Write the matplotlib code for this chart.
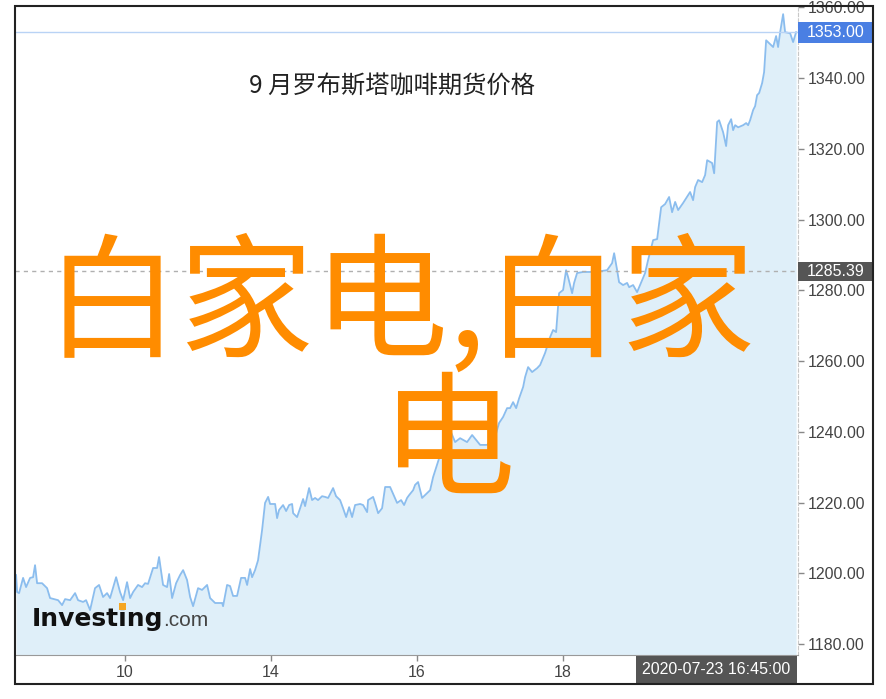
import matplotlib
matplotlib.use("Agg")
import matplotlib.pyplot as plt
from matplotlib.patches import Rectangle
from matplotlib.transforms import blended_transform_factory

plt.rcParams['font.family'] = ['Noto Sans CJK SC', 'DejaVu Sans']

# position in trading sessions (tick "10" = 0) and price
x_pos = [-1.495, -1.481, -1.454, -1.399, -1.358, -1.303, -1.262, -1.235, -1.207, -1.139,
         -1.070, -1.029, -0.919, -0.864, -0.823, -0.754, -0.686, -0.645, -0.576, -0.535,
         -0.480, -0.412, -0.357, -0.302, -0.247, -0.206, -0.123, -0.069, -0.027, 0.027,
         0.069, 0.110, 0.178, 0.233, 0.274, 0.315, 0.384, 0.439, 0.466, 0.521,
         0.576, 0.604, 0.645, 0.700, 0.754, 0.796, 0.850, 0.892, 0.933, 1.001,
         1.056, 1.125, 1.166, 1.235, 1.331, 1.344, 1.399, 1.440, 1.481, 1.536,
         1.591, 1.646, 1.674, 1.715, 1.742, 1.783, 1.824, 1.879, 1.920, 1.962,
         1.989, 2.058, 2.085, 2.112, 2.167, 2.209, 2.250, 2.291, 2.305, 2.359,
         2.401, 2.442, 2.469, 2.524, 2.565, 2.606, 2.647, 2.702, 2.743, 2.785,
         2.853, 2.894, 2.949, 2.990, 3.032, 3.073, 3.114, 3.155, 3.224, 3.265,
         3.320, 3.333, 3.402, 3.429, 3.471, 3.525, 3.567, 3.635, 3.731, 3.786,
         3.827, 3.868, 3.896, 3.951, 3.978, 4.019, 4.074, 4.143, 4.184, 4.225,
         4.321, 4.458, 4.527, 4.595, 4.691, 4.760, 4.870, 4.966, 5.034, 5.089,
         5.130, 5.185, 5.240, 5.281, 5.322, 5.364, 5.405, 5.460, 5.487, 5.528,
         5.583, 5.652, 5.693, 5.761, 5.830, 5.871, 5.912, 5.953, 6.008, 6.049,
         6.077, 6.132, 6.159, 6.200, 6.283, 6.447, 6.612, 6.680, 6.708, 6.749,
         6.776, 6.831, 6.886, 6.914, 6.968, 7.023, 7.064, 7.133, 7.174, 7.243,
         7.298, 7.353, 7.407, 7.462, 7.503, 7.545, 7.586, 7.654, 7.750, 7.791,
         7.819, 7.860, 7.915, 7.956, 7.984, 8.052, 8.080, 8.121, 8.148, 8.203,
         8.244, 8.272, 8.313, 8.340, 8.368, 8.409, 8.477, 8.519, 8.546, 8.573,
         8.615, 8.642, 8.669, 8.697, 8.738, 8.765, 8.793, 8.834, 8.889, 8.930,
         8.957, 8.985, 9.026, 9.053, 9.122, 9.163, 9.204]
price = [1199.5, 1194.7, 1194.4, 1198.7, 1196.1, 1198.7, 1198.9, 1202.3, 1197.2, 1197.2,
         1195.8, 1193.0, 1192.4, 1191.0, 1192.7, 1192.4, 1194.4, 1192.4, 1191.9, 1192.4,
         1189.6, 1195.8, 1196.7, 1193.3, 1194.4, 1193.0, 1198.9, 1194.7, 1192.4, 1197.5,
         1193.0, 1194.7, 1196.7, 1196.1, 1197.2, 1197.0, 1201.5, 1201.5, 1204.6, 1196.7,
         1196.1, 1199.8, 1193.0, 1197.2, 1199.5, 1200.9, 1198.1, 1193.3, 1190.7, 1195.8,
         1195.3, 1196.7, 1193.0, 1191.6, 1191.6, 1190.7, 1196.7, 1196.4, 1193.6, 1193.6,
         1198.7, 1198.7, 1196.7, 1201.2, 1198.9, 1200.9, 1203.7, 1212.2, 1219.9, 1221.6,
         1219.6, 1219.6, 1215.6, 1217.9, 1219.3, 1217.6, 1219.3, 1219.6, 1217.0, 1215.9,
         1218.4, 1221.0, 1219.0, 1224.1, 1220.7, 1221.3, 1220.7, 1221.8, 1221.6, 1221.3,
         1224.1, 1221.8, 1220.7, 1218.4, 1215.9, 1218.7, 1215.9, 1219.3, 1219.6, 1219.3,
         1217.3, 1220.7, 1221.6, 1219.9, 1217.0, 1218.4, 1224.4, 1224.4, 1219.9, 1220.7,
         1219.3, 1221.3, 1222.1, 1223.5, 1225.0, 1225.8, 1221.3, 1222.7, 1223.5, 1227.2,
         1233.4, 1240.5, 1237.1, 1238.2, 1237.1, 1239.1, 1236.3, 1236.3, 1237.7, 1239.6,
         1242.5, 1244.2, 1246.7, 1246.7, 1248.4, 1246.7, 1249.5, 1252.7, 1255.5, 1258.3,
         1256.9, 1258.0, 1258.9, 1262.3, 1266.8, 1268.8, 1268.2, 1279.2, 1280.1, 1285.7,
         1283.7, 1279.2, 1282.1, 1284.9, 1285.2, 1285.2, 1285.7, 1287.7, 1290.5, 1285.7,
         1282.3, 1281.5, 1282.1, 1280.9, 1281.5, 1279.5, 1281.5, 1284.9, 1288.6, 1294.2,
         1294.5, 1303.5, 1304.4, 1306.4, 1302.1, 1305.0, 1302.7, 1304.7, 1307.8, 1305.5,
         1309.2, 1311.2, 1310.6, 1312.6, 1316.8, 1316.0, 1313.1, 1327.6, 1328.1, 1324.7,
         1320.8, 1326.7, 1328.4, 1325.3, 1326.7, 1326.1, 1326.7, 1327.3, 1326.7, 1328.1,
         1331.0, 1332.1, 1335.2, 1335.8, 1338.6, 1341.7, 1350.7, 1349.9, 1348.8, 1351.9,
         1348.8, 1353.0, 1358.1, 1353.0, 1352.7, 1350.2, 1353.0]

x_ticks = [0, 2, 4, 6]
x_tick_labels = ['10', '14', '16', '18']
y_ticks = [1180, 1200, 1220, 1240, 1260, 1280, 1300, 1320, 1340, 1360]
last_price = 1353.00
marker_price = 1285.39
last_time = '2020-07-23 16:45:00'
title = '9 月罗布斯塔咖啡期货价格'
overlay_1 = '白家电,白家'
overlay_2 = '电'

num_font = 'Liberation Sans'
y_min, y_max = 1176.9, 1360.4
px_per_unit = 649 / (y_max - y_min)   # pixels per price unit

fig = plt.figure(figsize=(8.86, 6.99), dpi=100)
ax = fig.add_axes([15 / 886, 1 - 655 / 699, 783 / 886, 649 / 699])

# serie
ax.fill_between(x_pos, price, y_min, color='#dfeff9', lw=0)
ax.plot(x_pos, price, color='#8bbdee', lw=1.3)

# lignes de prix
ax.axhline(last_price, color='#b9d3f5', lw=1)
ax.axhline(marker_price, color='#b0b0b0', lw=1, dashes=(3, 3))

ax.set_xlim(-1.51, 9.23)
ax.set_ylim(y_min, y_max)

ax.yaxis.tick_right()
ax.set_yticks(y_ticks)
ax.set_yticklabels(['%.2f' % v for v in y_ticks])
ax.set_xticks(x_ticks)
ax.set_xticklabels(x_tick_labels)
ax.tick_params(axis='both', colors='#888888', labelcolor='#444444',
               length=4, width=1, labelsize=11.5)
ax.tick_params(axis='y', pad=3)
for lab in ax.get_xticklabels() + ax.get_yticklabels():
    lab.set_fontfamily(num_font)

for s in ['left', 'top']:
    ax.spines[s].set_visible(False)
ax.spines['bottom'].set_color('#999999')
ax.spines['right'].set_color('#c8c8c8')
ax.spines['right'].set_linestyle((0, (3, 2)))

# étiquettes de prix à droite
tr = blended_transform_factory(ax.transAxes, ax.transData)
box_w = 75 / 783
for val, col, h in [(last_price, '#4a7fe3', 21), (marker_price, '#555555', 19)]:
    half = h / 2 / px_per_unit
    ax.add_patch(Rectangle((1.0, val - half), box_w, 2 * half, transform=tr,
                           fc=col, ec='none', clip_on=False, zorder=5))
    ax.text(1.0 + box_w / 2, val, '%.2f' % val, transform=tr, color='white',
            fontsize=11.5, family=num_font, va='center', ha='center', zorder=6)

# date en bas
fig.patches.append(Rectangle((636 / 886, 1 - 684 / 699), 161 / 886, 28 / 699,
                             transform=fig.transFigure, fc='#555555', ec='none'))
fig.text(716 / 886, 1 - 670 / 699, last_time, color='white', fontsize=11.5,
         family=num_font, ha='center', va='center')

# titre
ax.text(0.482, 0.876, title, transform=ax.transAxes, ha='center', va='center',
        fontsize=17.5, color='#222222')

# logo
ax.text(0.022, 0.0447, 'Investing', transform=ax.transAxes, fontsize=18,
        fontweight='bold', family='DejaVu Sans', color='#111111', va='baseline')
ax.text(0.189, 0.0447, '.com', transform=ax.transAxes, fontsize=15,
        family='Liberation Sans', color='#444444', va='baseline')
# point orange du "i"
fig.patches.append(Rectangle((119.5 / 886, 1 - 610 / 699), 7 / 886, 7 / 699,
                             transform=fig.transFigure, fc='#f5a623', ec='none'))

# texte orange
fig.text(400 / 886, 1 - 308 / 699, overlay_1, fontsize=97, color='#ff8c00',
         ha='center', va='center', fontweight='medium')
fig.text(447 / 886, 1 - 447 / 699, overlay_2, fontsize=97, color='#ff8c00',
         ha='center', va='center', fontweight='medium')

# cadre
fig.patches.append(Rectangle((15 / 886, 1 - 684 / 699), 858 / 886, 678 / 699,
                             transform=fig.transFigure, fill=False,
                             ec='#222222', lw=1.5))

fig.savefig('out.png', dpi=100)
